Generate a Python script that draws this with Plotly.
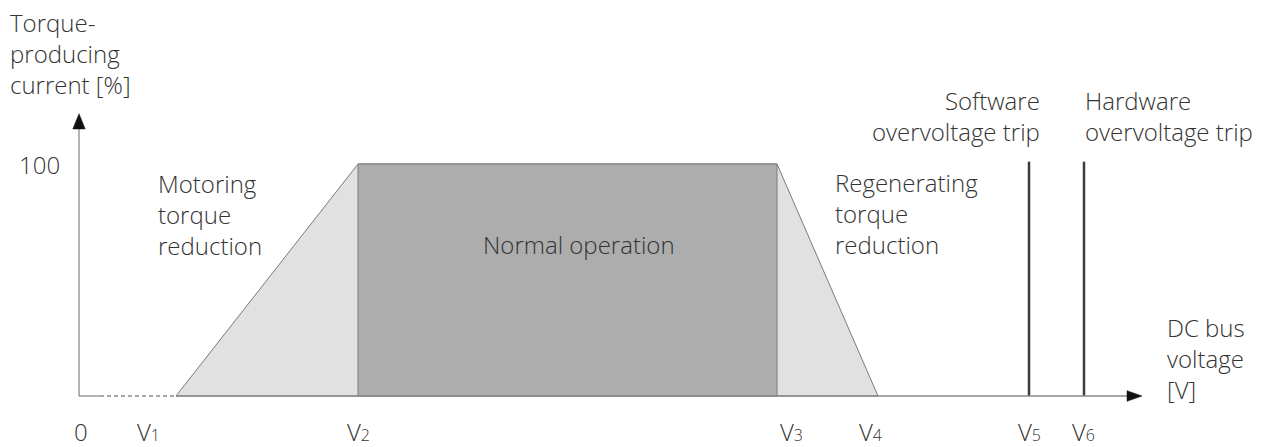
import plotly.graph_objects as go

# ---- data (voltage axis in arbitrary units, current in %) ----
SUB = "<span style='font-size:16px'>{}</span>"
tick_labels = ["0"] + ["V" + SUB.format(i) for i in range(1, 7)]
tick_positions = [0.2, 6.9, 27.9, 71.2, 79.1, 95.0, 100.4]

ramp_start = 9.7      # motoring reduction begins
v2 = 27.9             # full current reached
v3 = 69.8             # regenerating reduction begins
v4 = 79.9             # zero current
v5 = 95.0             # software overvoltage trip
v6 = 100.5            # hardware overvoltage trip
full_current = 100
trip_line_top = 101
dash_start = 2.1

x_axis_end = 106.3
y_axis_end = 121.7

TEXT = "#333333"
FONT = "Open Sans"
FS = 24

fig = go.Figure()

# light grey trapezoid (reduction zones)
fig.add_trace(go.Scatter(
    x=[ramp_start, v2, v3, v4, ramp_start],
    y=[0, full_current, full_current, 0, 0],
    fill="toself", fillcolor="#e1e1e1", mode="lines",
    line=dict(color="#7a7a7a", width=1), hoverinfo="skip", showlegend=False))

# dark grey rectangle (normal operation)
fig.add_trace(go.Scatter(
    x=[v2, v2, v3, v3, v2],
    y=[0, full_current, full_current, 0, 0],
    fill="toself", fillcolor="#adadad", mode="lines",
    line=dict(color="#7a7a7a", width=1), hoverinfo="skip", showlegend=False))

# trip lines
for v in (v5, v6):
    fig.add_trace(go.Scatter(x=[v, v], y=[0, trip_line_top], mode="lines",
                             line=dict(color="#3c3c3c", width=2.5),
                             hoverinfo="skip", showlegend=False))

# axes
axis_col = "#8a8a8a"
fig.add_trace(go.Scatter(x=[0, 0], y=[0, y_axis_end - 5], mode="lines",
                         line=dict(color=axis_col, width=1.3), hoverinfo="skip", showlegend=False))
fig.add_trace(go.Scatter(x=[0, dash_start], y=[0, 0], mode="lines",
                         line=dict(color=axis_col, width=1.3), hoverinfo="skip", showlegend=False))
fig.add_trace(go.Scatter(x=[dash_start, ramp_start], y=[0, 0], mode="lines",
                         line=dict(color=axis_col, width=1.3, dash="4px,3px"),
                         hoverinfo="skip", showlegend=False))
fig.add_trace(go.Scatter(x=[ramp_start, x_axis_end - 1.2], y=[0, 0], mode="lines",
                         line=dict(color=axis_col, width=1.3), hoverinfo="skip", showlegend=False))

# arrowheads
hx, hy = 0.62, 6.6
fig.add_trace(go.Scatter(x=[-hx, hx, 0, -hx], y=[y_axis_end - hy, y_axis_end - hy, y_axis_end, y_axis_end - hy],
                         fill="toself", fillcolor="#111111", mode="lines",
                         line=dict(color="#111111", width=0.5), hoverinfo="skip", showlegend=False))
ax_len, ax_h = 1.5, 2.3
fig.add_trace(go.Scatter(x=[x_axis_end - ax_len, x_axis_end - ax_len, x_axis_end, x_axis_end - ax_len],
                         y=[-ax_h, ax_h, 0, -ax_h],
                         fill="toself", fillcolor="#111111", mode="lines",
                         line=dict(color="#111111", width=0.5), hoverinfo="skip", showlegend=False))

ann = []
def txt(x, y, s, xa="left", ya="top", align="left", size=FS):
    ann.append(dict(x=x, y=y, xref="x", yref="y", text=s, showarrow=False,
                    xanchor=xa, yanchor=ya, align=align, borderpad=0,
                    font=dict(family=FONT, size=size, color=TEXT, weight=300)))

txt(-7.0, 147.8, "Torque-<br>producing<br>current [%]", ya="middle")
txt(-1.8, 100, "100", xa="right", ya="middle", align="right")
txt(7.8, 99.2, "Motoring<br>torque<br>reduction")
txt(50.0, 65.5, "Normal operation", xa="center", ya="middle", align="center")
txt(75.5, 99.4, "Regenerating<br>torque<br>reduction")
txt(96.2, 135.0, "Software<br>overvoltage trip", xa="right", align="right")
txt(100.5, 135.0, "Hardware<br>overvoltage trip")
txt(108.7, 36.9, "DC bus<br>voltage<br>[V]")

for p, t in zip(tick_positions, tick_labels):
    txt(p, -15.3, t, xa="center", ya="middle", align="center")

# page body has an 8px margin: ranges are chosen so the drawing lands in place
fig.update_layout(
    width=1270, height=447,
    margin=dict(l=0, r=0, t=0, b=0),
    paper_bgcolor="white", plot_bgcolor="white",
    xaxis=dict(range=[-7.1, 119.9], visible=False, fixedrange=True),
    yaxis=dict(range=[-25.431, 167.241], visible=False, fixedrange=True),
    annotations=ann,
    showlegend=False,
)

fig.write_html("out.html")
